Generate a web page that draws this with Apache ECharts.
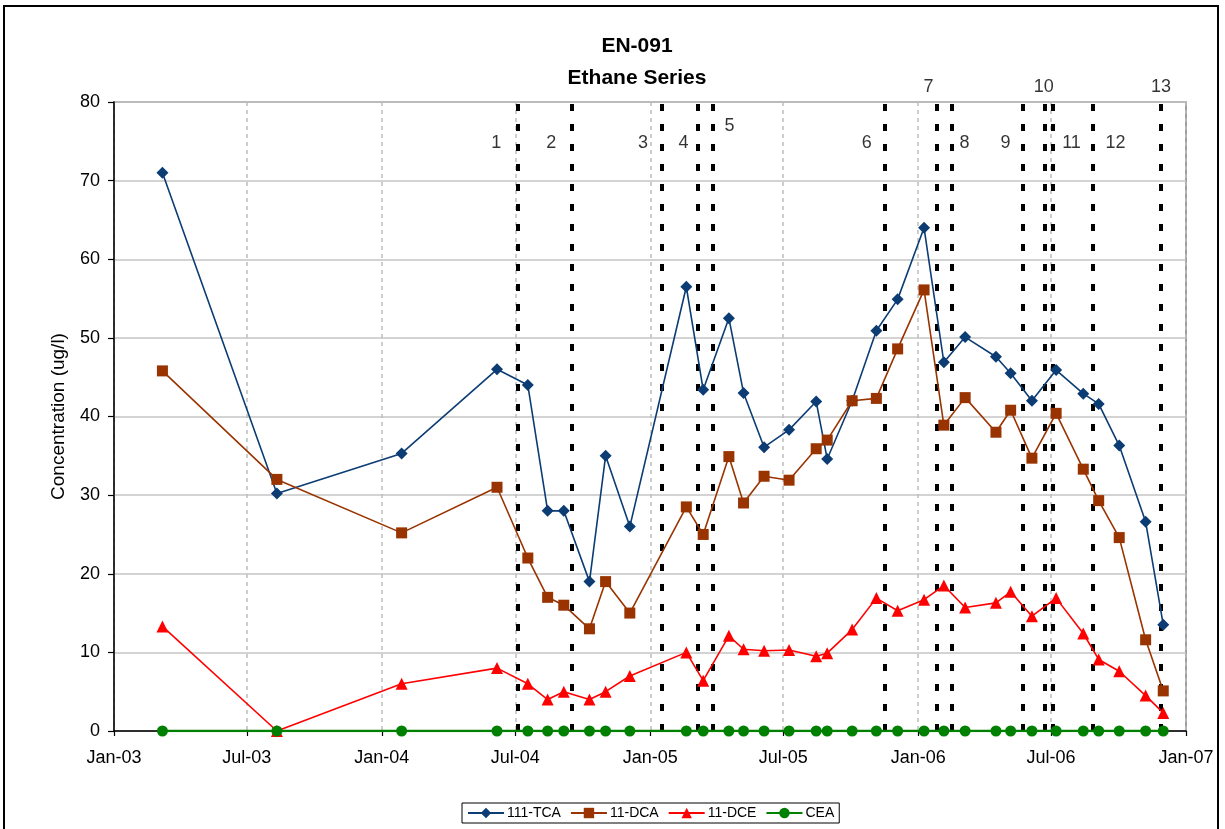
<!DOCTYPE html>
<html>
<head>
<meta charset="utf-8">
<title>EN-091 Ethane Series</title>
<script src="https://cdn.jsdelivr.net/npm/echarts@6/dist/echarts.min.js"></script>
<style>
  html, body { margin: 0; padding: 0; background: #fff; }
  #main { width: 1225px; height: 829px; }
</style>
</head>
<body>
<div id="main"></div>
<script>
// sample dates (shared by all four compounds)
var sampleDates = [
  '2003-03-08', '2003-08-11', '2004-01-28', '2004-06-06', '2004-07-18',
  '2004-08-14', '2004-09-05', '2004-10-10', '2004-11-01', '2004-12-04',
  '2005-02-19', '2005-03-14', '2005-04-18', '2005-05-08', '2005-06-05',
  '2005-07-09', '2005-08-15', '2005-08-30', '2005-10-03', '2005-11-05',
  '2005-12-04', '2006-01-09', '2006-02-05', '2006-03-06', '2006-04-17',
  '2006-05-07', '2006-06-05', '2006-07-08', '2006-08-14', '2006-09-04',
  '2006-10-02', '2006-11-07', '2006-12-01'
];
var tca = [71.0, 30.2, 35.3, 46.0, 44.0, 28.0, 28.0, 19.0, 35.0, 26.0,
  56.5, 43.4, 52.5, 43.0, 36.1, 38.3, 41.9, 34.6, 42.0, 50.9,
  54.9, 64.0, 46.9, 50.1, 47.6, 45.5, 42.0, 45.9, 42.9, 41.6,
  36.3, 26.6, 13.5];
var dca = [45.8, 32.0, 25.2, 31.0, 22.0, 17.0, 16.0, 13.0, 19.0, 15.0,
  28.5, 25.0, 34.9, 29.0, 32.4, 31.9, 35.9, 37.0, 42.0, 42.3,
  48.6, 56.1, 38.9, 42.4, 38.0, 40.8, 34.7, 40.4, 33.3, 29.3,
  24.6, 11.6, 5.1];
var dce = [13.3, 0.0, 6.0, 8.0, 6.0, 4.0, 5.0, 4.0, 5.0, 7.0,
  10.0, 6.4, 12.1, 10.4, 10.2, 10.3, 9.5, 9.9, 12.9, 16.9,
  15.3, 16.7, 18.5, 15.7, 16.3, 17.7, 14.6, 16.9, 12.4, 9.1,
  7.6, 4.5, 2.3];
var cea = [0, 0, 0, 0, 0, 0, 0, 0, 0, 0,
  0, 0, 0, 0, 0, 0, 0, 0, 0, 0,
  0, 0, 0, 0, 0, 0, 0, 0, 0, 0,
  0, 0, 0];

// event markers (black dotted lines) and their numbers
var eventDates = ['2004-07-04', '2004-09-16', '2005-01-17', '2005-03-06', '2005-03-27',
  '2005-11-16', '2006-01-26', '2006-02-16', '2006-05-24', '2006-06-22',
  '2006-07-03', '2006-08-27', '2006-11-28'];
var eventLabels = ['1', '2', '3', '4', '5', '6', '7', '8', '9', '10', '11', '12', '13'];
var eventLabelDates = ['2004-06-05', '2004-08-19', '2004-12-22', '2005-02-15', '2005-04-19',
  '2005-10-23', '2006-01-15', '2006-03-05', '2006-04-30', '2006-06-21',
  '2006-07-29', '2006-09-27', '2006-11-28'];
var eventLabelValues = [74.8, 74.8, 74.8, 74.8, 76.9, 74.8, 81.9, 74.8, 74.8, 81.9, 74.8, 74.8, 81.9];

var seriesNames = ['111-TCA', '11-DCA', '11-DCE', 'CEA'];

function pairs(vals) {
  return sampleDates.map(function (d, i) { return [d, vals[i]]; });
}

var font = 'Arial, "Liberation Sans", sans-serif';
var chart = echarts.init(document.getElementById('main'));

var option = {
  animation: false,
  backgroundColor: '#fff',
  textStyle: { fontFamily: font, color: '#000' },
  title: {
    text: 'EN-091\nEthane Series',
    left: 632,
    top: 25,
    textAlign: 'center',
    textStyle: { fontFamily: font, fontSize: 21, fontWeight: 'bold', lineHeight: 32, color: '#000' }
  },
  graphic: [{
    type: 'rect',
    shape: { x: 4, y: 6, width: 1214, height: 840 },
    style: { fill: 'none', stroke: '#000', lineWidth: 2 },
    silent: true
  }],
  legend: {
    data: seriesNames,
    left: 462,
    top: 803,
    orient: 'horizontal',
    backgroundColor: '#fff',
    borderColor: '#000',
    borderWidth: 1,
    borderRadius: 0,
    padding: [3, 5, 3, 5],
    itemWidth: 36,
    itemHeight: 13,
    itemGap: 9,
    textStyle: { fontFamily: font, fontSize: 14, color: '#000', padding: [0, 0, 0, -2] }
  },
  grid: {
    left: 114,
    right: 39,
    top: 102,
    bottom: 98,
    show: true,
    borderColor: '#808080',
    borderWidth: 1.5,
    containLabel: false
  },
  xAxis: {
    type: 'time',
    min: '2003-01-01',
    max: '2007-01-01',
    splitNumber: 8,
    minInterval: 180 * 86400000,
    maxInterval: 186 * 86400000,
    axisLine: { show: true, onZero: false, lineStyle: { color: '#000', width: 1.5 } },
    axisTick: { show: true, length: 5, lineStyle: { color: '#000', width: 1.2 } },
    axisLabel: {
      formatter: '{MMM}-{yy}',
      fontSize: 18,
      color: '#000',
      margin: 18,
      showMinLabel: true,
      showMaxLabel: true,
      hideOverlap: false
    },
    splitLine: { show: true, lineStyle: { color: '#BDBDBD', width: 1.5, type: [4, 4] } }
  },
  yAxis: {
    type: 'value',
    min: 0,
    max: 80,
    interval: 10,
    name: 'Concentration (ug/l)',
    nameLocation: 'middle',
    nameGap: 46,
    nameTextStyle: { fontFamily: font, fontSize: 19, color: '#000' },
    axisLine: { show: true, lineStyle: { color: '#000', width: 1.5 } },
    axisTick: { show: true, length: 6, lineStyle: { color: '#000', width: 1.2 } },
    axisLabel: { fontSize: 18, color: '#000', margin: 14 },
    splitLine: { show: true, lineStyle: { color: '#C4C4C4', width: 1.5 } }
  },
  series: [
    {
      name: 'events',
      type: 'line',
      data: [],
      silent: true,
      z: 1,
      markLine: {
        silent: true,
        symbol: ['none', 'none'],
        label: { show: false },
        lineStyle: { color: '#000', width: 4, type: [7, 13] },
        emphasis: { disabled: true },
        data: eventDates.map(function (d) { return { xAxis: d }; })
      }
    },
    {
      name: 'event numbers',
      type: 'scatter',
      symbolSize: 0,
      clip: false,
      silent: true,
      z: 3,
      data: eventLabelDates.map(function (d, i) { return [d, eventLabelValues[i], eventLabels[i]]; }),
      label: {
        show: true,
        position: 'inside',
        formatter: function (p) { return p.value[2]; },
        fontFamily: font,
        fontSize: 18,
        color: '#000'
      }
    },
    {
      name: '111-TCA',
      type: 'line',
      data: pairs(tca),
      symbol: 'diamond',
      symbolSize: 12,
      z: 5,
      itemStyle: { color: '#0B3C73' },
      lineStyle: { color: '#0B3C73', width: 1.6 }
    },
    {
      name: '11-DCA',
      type: 'line',
      data: pairs(dca),
      symbol: 'rect',
      symbolSize: 11,
      z: 5,
      itemStyle: { color: '#993300' },
      lineStyle: { color: '#993300', width: 1.6 }
    },
    {
      name: '11-DCE',
      type: 'line',
      data: pairs(dce),
      symbol: 'triangle',
      symbolSize: 12,
      z: 5,
      itemStyle: { color: '#FF0000' },
      lineStyle: { color: '#FF0000', width: 1.6 }
    },
    {
      name: 'CEA',
      type: 'line',
      data: pairs(cea),
      symbol: 'circle',
      symbolSize: 11,
      z: 6,
      itemStyle: { color: '#008000' },
      lineStyle: { color: '#008000', width: 2.5 }
    }
  ]
};

chart.setOption(option);
</script>
</body>
</html>
